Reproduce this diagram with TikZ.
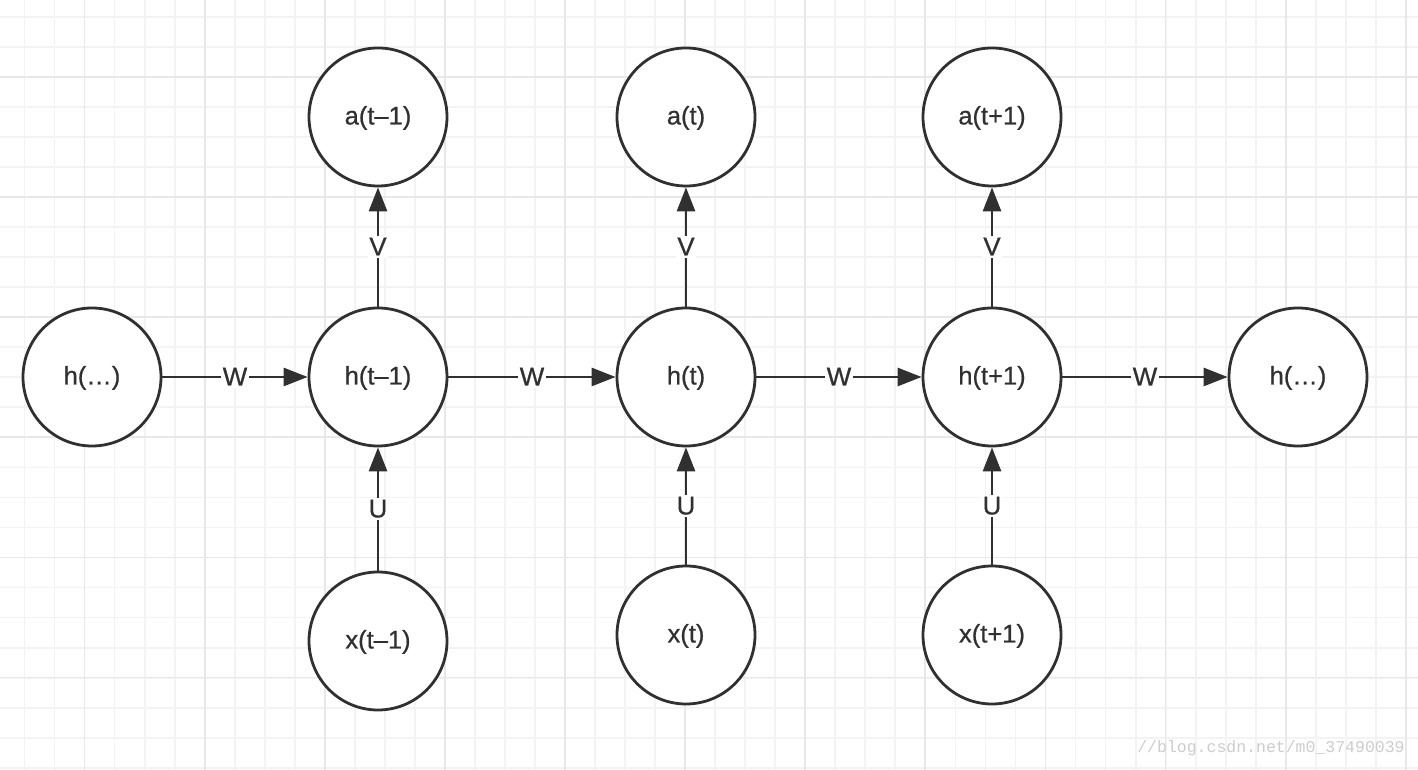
\documentclass[tikz,border=0pt]{standalone}
\usepackage{fontspec}
\setmainfont{Liberation Sans}
\newfontfamily\cellfont{Liberation Sans}[FakeBold=0.7, Ligatures=TeX]
\newfontfamily\stampfont{Liberation Mono}
\usetikzlibrary{arrows, arrows.meta}
\definecolor{inkgray}{RGB}{48,48,48}
\definecolor{gridminor}{RGB}{243,243,243}
\definecolor{gridmajor}{RGB}{232,232,232}
\definecolor{stampgray}{RGB}{205,205,205}

\begin{document}
\begin{tikzpicture}[x=1pt, y=1pt,
  cell/.style={circle, draw=inkgray, line width=2.8pt, fill=white, minimum size=138pt,
    inner sep=0pt, text=inkgray, text height=18pt, text depth=3pt,
    font=\cellfont\fontsize{25.5}{28}\selectfont},
  link/.style={draw=inkgray, line width=2.8pt, -{Triangle[length=24pt, width=18pt]}},
  wlabel/.style={fill=white, text=inkgray, inner sep=1.5pt, text height=18pt, text depth=1pt,
    font=\cellfont\fontsize{26}{28}\selectfont},
  stamp/.style={text=stampgray, inner sep=0pt, font=\stampfont\fontsize{16.5}{18}\selectfont}]

\useasboundingbox (0,0) rectangle (1418,770);
\fill[white] (0,0) rectangle (1418,770);
%background grid
\foreach \i in {0,...,46} \draw[gridminor, line width=1.8pt] ({24.5+30.03*\i},0) -- ++(0,770);
\foreach \j in {0,...,25} \draw[gridminor, line width=1.8pt] (0,{753-30.03*\j}) -- ++(1418,0);
\foreach \i in {0,...,11} \draw[gridmajor, line width=1.8pt] ({84.5+120.12*\i},0) -- ++(0,770);
\foreach \j in {0,...,5} \draw[gridmajor, line width=1.8pt] (0,{693-120.12*\j}) -- ++(1418,0);

% hidden states
\node[cell] (hL) at (92,393)   {h(…)};
\node[cell] (h1) at (378,393)  {h(t–1)};
\node[cell] (h2) at (686,393)  {h(t)};
\node[cell] (h3) at (992,393)  {h(t+1)};
\node[cell] (hR) at (1298,393) {h(…)};

% outputs
\node[cell] (a1) at (378,653) {a(t–1)};
\node[cell] (a2) at (686,653) {a(t)};
\node[cell] (a3) at (992,653) {a(t+1)};

% inputs
\node[cell] (x1) at (378,129) {x(t–1)};
\node[cell] (x2) at (686,135) {x(t)};
\node[cell] (x3) at (992,135) {x(t+1)};

%-------------------------------------------------
\draw[link] (hL) -- node[wlabel] {W} (h1);
\draw[link] (h1) -- node[wlabel] {W} (h2);
\draw[link] (h2) -- node[wlabel] {W} (h3);
\draw[link] (h3) -- node[wlabel] {W} (hR);

\draw[link] (h1) -- node[wlabel] {V} (a1);
\draw[link] (h2) -- node[wlabel] {V} (a2);
\draw[link] (h3) -- node[wlabel] {V} (a3);

\draw[link] (x1) -- node[wlabel] {U} (h1);
\draw[link] (x2) -- node[wlabel] {U} (h2);
\draw[link] (x3) -- node[wlabel] {U} (h3);
%-------------------------------------------------
\node[stamp] (credit) at (1271,22) {//blog.csdn.net/m0\_37490039};
\end{tikzpicture}
\end{document}
